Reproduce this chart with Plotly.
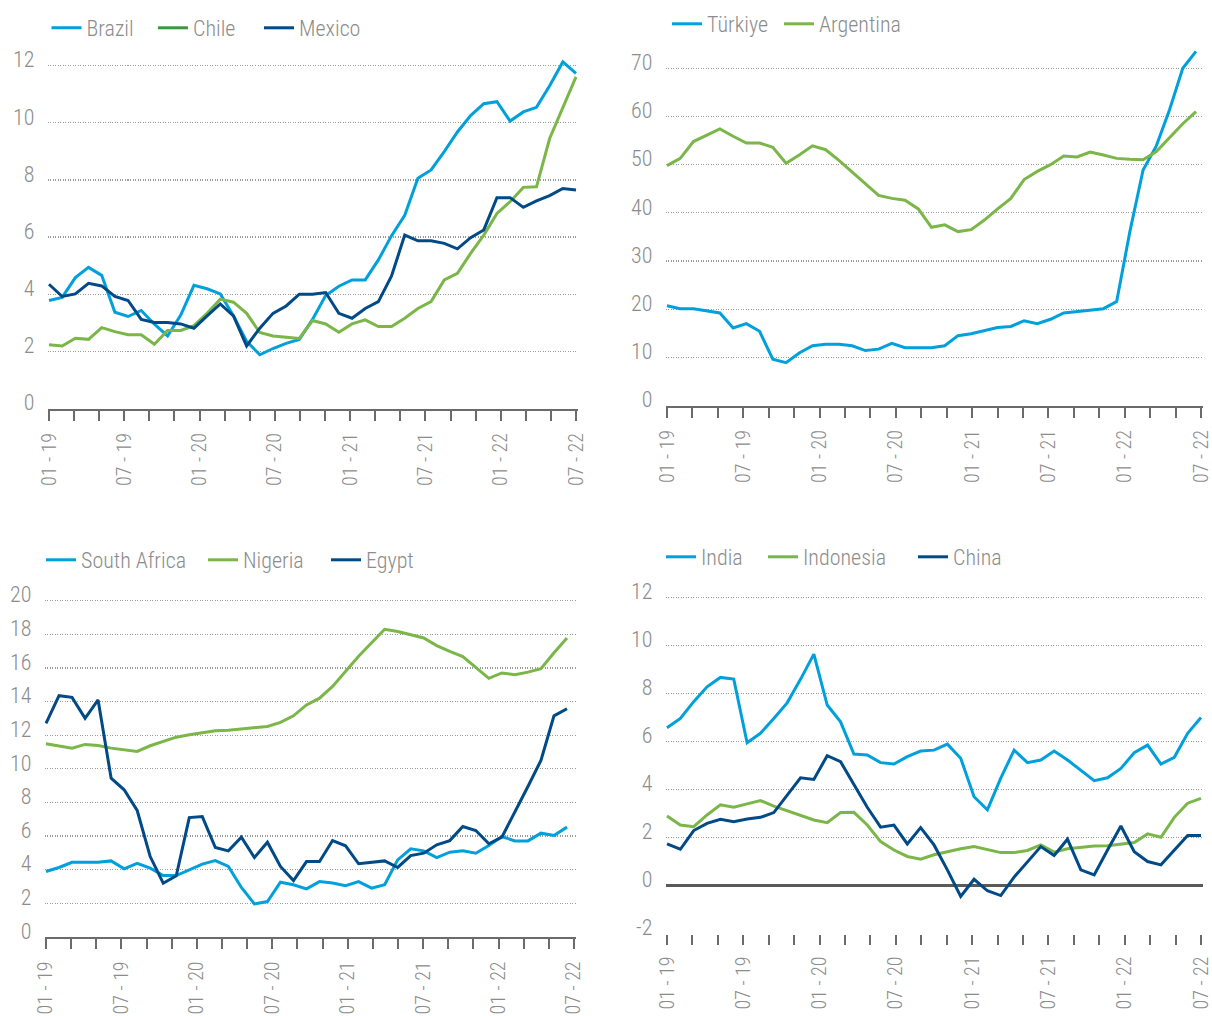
import plotly.graph_objects as go

# ---------------- data (monthly, 41 observations) ----------------
tick_labels = ["01 - 19", "07 - 19", "01 - 20", "07 - 20", "01 - 21", "07 - 21", "01 - 22", "07 - 22"]
n_ticks = 22          # tick marks along each x axis (a label on every 3rd)
n_points = 41
months = list(range(n_points))

brazil = [3.78, 3.89, 4.58, 4.94, 4.66, 3.37, 3.22, 3.43, 2.95, 2.54, 3.27, 4.31, 4.19, 4.01,
          3.25, 2.35, 1.88, 2.10, 2.28, 2.42, 3.12, 3.95, 4.28, 4.50, 4.50, 5.20, 6.05, 6.76,
          8.06, 8.35, 8.99, 9.68, 10.25, 10.67, 10.74, 10.06, 10.38, 10.54, 11.30, 12.13, 11.73]
chile = [2.23, 2.19, 2.46, 2.42, 2.83, 2.69, 2.58, 2.58, 2.25, 2.73, 2.73, 2.90, 3.33, 3.83,
         3.72, 3.33, 2.66, 2.54, 2.49, 2.45, 3.08, 2.96, 2.67, 2.96, 3.10, 2.87, 2.87, 3.16,
         3.50, 3.74, 4.50, 4.73, 5.43, 6.07, 6.83, 7.24, 7.74, 7.76, 9.45, 10.56, 11.61]
mexico = [4.35, 3.92, 4.01, 4.38, 4.29, 3.92, 3.78, 3.12, 3.01, 3.01, 2.96, 2.81, 3.24, 3.66,
          3.24, 2.19, 2.81, 3.33, 3.59, 4.00, 4.00, 4.06, 3.33, 3.16, 3.50, 3.74, 4.64, 6.07,
          5.87, 5.87, 5.78, 5.59, 5.98, 6.25, 7.38, 7.38, 7.04, 7.27, 7.45, 7.70, 7.65]

turkiye = [20.7, 20.1, 20.1, 19.7, 19.2, 16.1, 17.0, 15.4, 9.6, 8.9, 10.9, 12.4, 12.7, 12.7,
           12.4, 11.4, 11.7, 12.9, 12.0, 12.0, 12.0, 12.4, 14.5, 14.9, 15.6, 16.2, 16.4, 17.6,
           17.0, 17.9, 19.2, 19.5, 19.9, 20.1, 21.6, 36.1, 48.9, 53.9, 61.4, 70.0, 73.5]
argentina = [49.8, 51.3, 54.8, 56.1, 57.4, 55.9, 54.5, 54.5, 53.6, 50.3, 52.0, 53.9, 53.1, 50.9,
             48.4, 45.9, 43.6, 43.0, 42.6, 40.8, 37.0, 37.5, 36.1, 36.5, 38.5, 40.8, 43.0, 46.9,
             48.6, 50.0, 51.8, 51.6, 52.6, 52.0, 51.3, 51.1, 51.0, 52.7, 55.5, 58.5, 61.0]

south_africa = [3.89, 4.13, 4.44, 4.44, 4.44, 4.52, 4.05, 4.38, 4.09, 3.65, 3.65, 3.99, 4.33, 4.54,
                4.19, 2.94, 1.96, 2.10, 3.25, 3.10, 2.86, 3.29, 3.20, 3.04, 3.29, 2.90, 3.10, 4.58,
                5.24, 5.12, 4.72, 5.04, 5.12, 4.98, 5.44, 5.97, 5.71, 5.71, 6.17, 6.03, 6.53]
nigeria = [11.49, 11.37, 11.23, 11.45, 11.38, 11.23, 11.13, 11.03, 11.37, 11.63, 11.88, 12.02,
           12.16, 12.26, 12.30, 12.36, 12.42, 12.52, 12.76, 13.15, 13.80, 14.20, 14.90, 15.80,
           16.70, 17.50, 18.30, 18.17, 17.98, 17.78, 17.33, 16.98, 16.68, 16.05, 15.38, 15.70,
           15.60, 15.75, 15.95, 16.90, 17.78]
egypt = [12.70, 14.35, 14.25, 13.00, 14.10, 9.44, 8.75, 7.52, 4.78, 3.19, 3.63, 7.10, 7.16, 5.32,
         5.12, 5.93, 4.72, 5.63, 4.19, 3.35, 4.48, 4.48, 5.73, 5.42, 4.35, 4.44, 4.52, 4.13,
         4.84, 4.98, 5.48, 5.73, 6.57, 6.33, 5.54, 5.93, 7.40, 8.95, 10.50, 13.15, 13.57]

india = [6.57, 6.96, 7.66, 8.28, 8.67, 8.60, 5.95, 6.34, 6.96, 7.61, 8.59, 9.64, 7.52, 6.82,
         5.48, 5.44, 5.12, 5.06, 5.37, 5.60, 5.64, 5.89, 5.30, 3.70, 3.15, 4.47, 5.64, 5.12,
         5.23, 5.60, 5.23, 4.81, 4.37, 4.49, 4.88, 5.53, 5.85, 5.06, 5.34, 6.34, 7.00]
indonesia = [2.90, 2.52, 2.45, 2.94, 3.36, 3.26, 3.40, 3.54, 3.31, 3.12, 2.91, 2.73, 2.62, 3.04,
             3.05, 2.52, 1.83, 1.48, 1.21, 1.10, 1.28, 1.41, 1.53, 1.62, 1.51, 1.37, 1.37, 1.46,
             1.69, 1.39, 1.53, 1.60, 1.65, 1.66, 1.73, 1.79, 2.15, 2.01, 2.84, 3.43, 3.63]
china = [1.73, 1.51, 2.29, 2.59, 2.76, 2.66, 2.77, 2.84, 3.04, 3.77, 4.49, 4.42, 5.41, 5.16,
         4.23, 3.26, 2.43, 2.52, 1.73, 2.41, 1.69, 0.65, -0.46, 0.26, -0.22, -0.42, 0.35, 1.00,
         1.62, 1.25, 1.93, 0.65, 0.44, 1.48, 2.48, 1.41, 1.00, 0.86, 1.48, 2.08, 2.08]

# y tick values / labels per panel
y_ticks_tl = [0, 2, 4, 6, 8, 10, 12]
y_ticks_tr = [0, 10, 20, 30, 40, 50, 60, 70]
y_ticks_bl = [0, 2, 4, 6, 8, 10, 12, 14, 16, 18, 20]
y_ticks_br = [-2, 0, 2, 4, 6, 8, 10, 12]

# ---------------- styling ----------------
W, H = 1212, 1016


def fx(X):
    return X / W


def fy(Y):
    return 1 - Y / H


FONT = "Roboto Condensed, Roboto, sans-serif"
TXT = "#8C8C8C"
AXIS = "#6B6B6B"
GRID = "#9A9A9A"
BLUE = "#00A0DC"
GREEN = "#7AB648"
NAVY = "#004A87"
DARKGREEN = "#3A9A3A"

# panel geometry in page pixels
panels = [
    dict(X0=49, Xd=576, Xt=576, Y0=408.5, ppu=28.57, yr=[0, 12.5], yt=y_ticks_tl, line=True, zl=False),
    dict(X0=667, Xd=1196, Xt=1201, Y0=405.5, ppu=4.817, yr=[0, 76], yt=y_ticks_tr, line=True, zl=False),
    dict(X0=46, Xd=567, Xt=574, Y0=936.9, ppu=16.81, yr=[0, 20.6], yt=y_ticks_bl, line=True, zl=False),
    dict(X0=667, Xd=1201, Xt=1201, Y0=885.5, ppu=24.0, yr=[-2, 12.5], yt=y_ticks_br, line=False, zl=True),
]

fig = go.Figure()

series = [
    # (panel, name, values, color, legend sample x, legend center y, legend color)
    (0, "Brazil", brazil, BLUE, 51.5, 28, None),
    (0, "Chile", chile, GREEN, 158, 28, DARKGREEN),
    (0, "Mexico", mexico, NAVY, 264, 28, None),
    (1, "Türkiye", turkiye, BLUE, 672, 24, None),
    (1, "Argentina", argentina, GREEN, 784, 24, None),
    (2, "South Africa", south_africa, BLUE, 46, 560, None),
    (2, "Nigeria", nigeria, GREEN, 208, 560, None),
    (2, "Egypt", egypt, NAVY, 331, 560, None),
    (3, "India", india, BLUE, 666, 557, None),
    (3, "Indonesia", indonesia, GREEN, 768, 557, None),
    (3, "China", china, NAVY, 918, 557, None),
]

legends = {}
for k, (p, name, vals, color, lx, ly, lcol) in enumerate(series):
    sfx = "" if p == 0 else str(p + 1)
    lname = "legend" if k == 0 else "legend%d" % (k + 1)
    legends[lname] = dict(
        x=fx(lx - 5), xanchor="left", y=fy(ly), yanchor="middle",
        orientation="h", bgcolor="rgba(0,0,0,0)", borderwidth=0,
        font=dict(family=FONT, size=22, color=TXT, weight=300),
    )
    fig.add_trace(go.Scatter(
        x=months, y=vals, mode="lines", name=name,
        line=dict(color=color, width=3),
        xaxis="x" + sfx, yaxis="y" + sfx,
        legend=lname, showlegend=lcol is None,
        hoverinfo="skip",
    ))
    if lcol is not None:
        fig.add_trace(go.Scatter(
            x=[None], y=[None], mode="lines", name=name,
            line=dict(color=lcol, width=3),
            xaxis="x" + sfx, yaxis="y" + sfx,
            legend=lname, showlegend=True, hoverinfo="skip",
        ))

layout = dict(
    template="none",
    width=W, height=H, margin=dict(l=0, r=0, t=0, b=0, autoexpand=False),
    paper_bgcolor="white", plot_bgcolor="white",
    font=dict(family=FONT, color=TXT),
    hovermode=False,
)
layout.update(legends)

pad = 1.5
for i, pn in enumerate(panels):
    sfx = "" if i == 0 else str(i + 1)
    upx = (n_points - 1) / (pn["Xd"] - pn["X0"])       # data units per pixel
    xr = [-pad * upx, (max(pn["Xd"], pn["Xt"]) + pad - pn["X0"]) * upx]
    step = (pn["Xt"] - pn["X0"]) * upx / (n_ticks - 1)
    labeled = [j * 3 * step for j in range(len(tick_labels))]
    ybot = pn["Y0"] - pn["yr"][0] * pn["ppu"]
    ytop = pn["Y0"] - pn["yr"][1] * pn["ppu"]
    layout["xaxis" + sfx] = dict(
        domain=[fx(pn["X0"] - pad), fx(max(pn["Xd"], pn["Xt"]) + pad)],
        anchor="y" + sfx, range=xr, fixedrange=True, automargin=False,
        showgrid=False, zeroline=False,
        showline=pn["line"], linecolor=AXIS, linewidth=2.5,
        ticks="outside", ticklen=10, tickwidth=2, tickcolor=AXIS,
        tickmode="array", tickvals=labeled, ticktext=tick_labels,
        tickangle=-90, tickfont=dict(family=FONT, size=20, color=TXT, weight=300),
        ticklabelstandoff=4, ticklabeloverflow="allow",
        minor=dict(tick0=0, dtick=step, ticks="outside", ticklen=10, tickwidth=2,
                   tickcolor=AXIS, showgrid=False),
    )
    layout["yaxis" + sfx] = dict(
        domain=[fy(ybot), fy(ytop)], anchor="x" + sfx, range=pn["yr"], fixedrange=True,
        automargin=False,
        tickmode="array", tickvals=pn["yt"], ticktext=[str(v) for v in pn["yt"]],
        showgrid=True, gridcolor=GRID, gridwidth=1.2, griddash="1px,1.5px",
        showline=False, ticks="",
        zeroline=pn["zl"], zerolinecolor="#5A5A5A", zerolinewidth=2.5,
        tickfont=dict(family=FONT, size=22, color=TXT, weight=300),
        ticklabelstandoff=12, ticklabelshift=-6, ticklabeloverflow="allow",
    )

fig.update_layout(**layout)
fig.write_html(
    "out.html",
    config={"displayModeBar": False, "staticPlot": True},
    post_script="document.body.style.margin='0px';document.documentElement.style.overflow='hidden';",
)
